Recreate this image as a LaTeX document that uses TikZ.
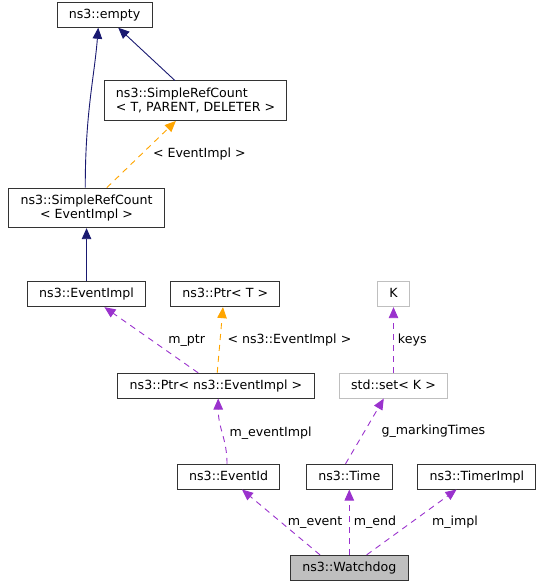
\documentclass[tikz,border=0pt]{standalone}
\usepackage{fontspec}
\setmainfont{DejaVu Sans}
\usetikzlibrary{arrows.meta, positioning}

\definecolor{inheritcol}{HTML}{191970}
\definecolor{tmplcol}{HTML}{FFA500}
\definecolor{membercol}{HTML}{9A32CD}
\definecolor{boxcol}{HTML}{333333}
\definecolor{extcol}{HTML}{BFBFBF}

\begin{document}
\begin{tikzpicture}[
    x=1pt, y=1pt,
    font=\fontsize{12.6}{14}\selectfont,
    % Style definitions
    boxbase/.style={draw=boxcol, line width=1pt, rectangle, inner xsep=11.8pt, inner ysep=0pt, align=center},
    cls/.style={boxbase, minimum height=24.7pt, text height=9.4pt, text depth=2.6pt},
    cls2/.style={boxbase, minimum height=39.5pt},
    extcls/.style={cls, draw=extcol},
    focus/.style={cls, fill=extcol},
    lbl/.style={inner sep=0pt, text=black, text height=9.4pt, text depth=2.6pt},
    inherit/.style={-{Triangle[length=11pt,width=9.5pt]}, line width=0.9pt, inheritcol},
    tmpl/.style={-{Triangle[length=11pt,width=9.5pt]}, line width=0.9pt, tmplcol, dash pattern=on 6pt off 5pt},
    member/.style={-{Triangle[length=11pt,width=9.5pt]}, line width=0.9pt, membercol, dash pattern=on 6pt off 5pt},
]
\useasboundingbox (0,0) rectangle (543,-587);

%% ---------- BOTTOM ROW ----------
\node[focus] (watchdog) at (349.3,-567.7) {ns3::Watchdog};

%% ---------- MEMBERS OF WATCHDOG ----------
\node[cls, above=65.3pt of watchdog] (time) {ns3::Time};
\node[cls, left=25.7pt of time] (eventid) {ns3::EventId};
\node[cls, right=24.7pt of time] (timerimpl) {ns3::TimerImpl};

%% ---------- SECOND LEVEL ----------
\node[extcls, above=65.3pt of time, xshift=44.2pt] (set) {std::set\textless{} K \textgreater};
\node[cls, left=24.3pt of set] (ptrei) {ns3::Ptr\textless{} ns3::EventImpl \textgreater};

%% ---------- THIRD LEVEL ----------
\node[extcls, above=65.7pt of set] (k) {K};
\node[cls, left=96.7pt of k] (ptrt) {ns3::Ptr\textless{} T \textgreater};
\node[cls, left=24pt of ptrt] (eventimpl) {ns3::EventImpl};

%% ---------- BASE CLASSES ----------
\node[cls2, above=53.3pt of eventimpl] (src_ei) {ns3::SimpleRefCount\\\textless{} EventImpl \textgreater};
\node[cls2, align=left, above=66.7pt of src_ei, xshift=109pt] (src_tpd) {ns3::SimpleRefCount\\\textless{} T, PARENT, DELETER \textgreater};
\node[cls, above=52.7pt of src_tpd, xshift=-91pt] (empty) {ns3::empty};

%% ========== ARROWS ==========

% Inheritance
\draw[inherit] ([xshift=-1.3pt]src_ei.north) .. controls +(0,75) and +(-4,-50) .. ([xshift=-6.3pt]empty.south);
\draw[inherit] ([xshift=-20.7pt]src_tpd.north) -- ([xshift=13.7pt]empty.south);
\draw[inherit] (eventimpl.north) -- (src_ei.south);

% Template instances
\draw[tmpl] ([xshift=20.3pt]src_ei.north) -- ([xshift=-19.7pt]src_tpd.south)
    node[lbl, midway, right=11.2pt] {\textless{} EventImpl \textgreater};
\draw[tmpl] ([xshift=1.2pt]ptrei.north) -- ([xshift=-2.3pt]ptrt.south)
    node[lbl, midway, right=7pt] {\textless{} ns3::EventImpl \textgreater};

% Members
\draw[member] ([xshift=-17.8pt]ptrei.north) -- ([xshift=17.9pt]eventimpl.south)
    node[lbl, midway, right=16.5pt] {m\_ptr};
\draw[member] (set.north) -- (k.south)
    node[lbl, midway, right=4pt] {keys};
\draw[member] ([xshift=-1.6pt]eventid.north) .. controls +(0,25) and +(0,-30) .. ([xshift=2.2pt]ptrei.south)
    node[lbl, midway, right=6.6pt] {m\_eventImpl};
\draw[member] ([xshift=-3.8pt]time.north) -- ([xshift=-9.7pt]set.south)
    node[lbl, midway, right=16.5pt] {g\_markingTimes};
\draw[member] ([xshift=-29.3pt]watchdog.north) -- ([xshift=13.4pt]eventid.south)
    node[lbl, midway, right=6.5pt] {m\_event};
\draw[member] (watchdog.north) -- (time.south)
    node[lbl, midway, right=4pt] {m\_end};
\draw[member] ([xshift=17.4pt]watchdog.north) -- ([xshift=-20.3pt]timerimpl.south)
    node[lbl, midway, right=20pt] {m\_impl};

\end{tikzpicture}
\end{document}
